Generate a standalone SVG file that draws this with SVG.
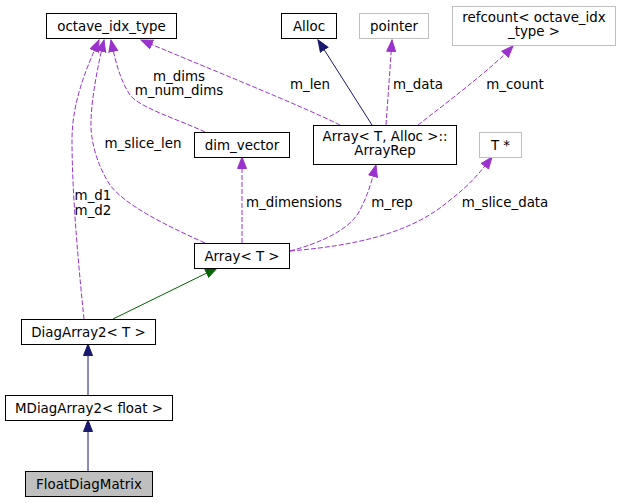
<svg xmlns="http://www.w3.org/2000/svg" width="621" height="503" viewBox="0 0 621 503">
<style>
text{font-family:"DejaVu Sans",sans-serif;font-size:13.4px;fill:#000;text-anchor:middle}
.box{fill:#fff;stroke:#000;stroke-width:1}
.gbox{fill:#fff;stroke:#bfbfbf;stroke-width:1}
.cur{fill:#bfbfbf;stroke:#000;stroke-width:1}
.dash{fill:none;stroke:#9a32cd;stroke-width:1;stroke-dasharray:5,2}
.navy{fill:none;stroke:#191970;stroke-width:1}
.green{fill:none;stroke:#006400;stroke-width:1}
</style>
<defs>
<marker id="ap" markerUnits="userSpaceOnUse" markerWidth="13" markerHeight="11" refX="12" refY="5" orient="auto"><path d="M0.5,0.5 L12,5 L0.5,9.5 z" fill="#9a32cd" stroke="#9a32cd"/></marker>
<marker id="an" markerUnits="userSpaceOnUse" markerWidth="13" markerHeight="11" refX="12" refY="5" orient="auto"><path d="M0.5,0.5 L12,5 L0.5,9.5 z" fill="#191970" stroke="#191970"/></marker>
<marker id="ag" markerUnits="userSpaceOnUse" markerWidth="13" markerHeight="11" refX="12" refY="5" orient="auto"><path d="M0.5,0.5 L12,5 L0.5,9.5 z" fill="#006400" stroke="#006400"/></marker>
</defs>
<g id="connectors">
<path class="navy" marker-end="url(#an)" d="M372,125 L318,40"/>
<path class="dash" marker-end="url(#ap)" d="M386,125 L392,40"/>
<text x="418" y="89">m_data</text>
<path class="dash" marker-end="url(#ap)" d="M418,125 C450,100 490,70 513,46"/>
<text x="515" y="89">m_count</text>
<path class="dash" marker-end="url(#ap)" d="M340,125 C300,105 200,65 141,40"/>
<text x="310" y="89">m_len</text>
<path class="dash" marker-end="url(#ap)" d="M205,132 C180,120 140,108 130,95 C120,80 115,60 111,40"/>
<text x="179" y="81">m_dims</text>
<text x="179" y="95">m_num_dims</text>
<path class="dash" marker-end="url(#ap)" d="M205,243 C165,225 125,205 110,185 C97,165 90,140 91,120 C92,95 98,65 104,40"/>
<text x="143" y="148">m_slice_len</text>
<path class="dash" marker-end="url(#ap)" d="M84,319 C80,280 72,200 72,140 C72,100 88,65 99,40"/>
<text x="93" y="200">m_d1</text>
<text x="93" y="215">m_d2</text>
<path class="dash" marker-end="url(#ap)" d="M242,243 L242,157"/>
<text x="294" y="207">m_dimensions</text>
<path class="dash" marker-end="url(#ap)" d="M290,251 C320,243 350,230 360,210 C368,195 372,180 376,165"/>
<text x="392" y="207">m_rep</text>
<path class="dash" marker-end="url(#ap)" d="M290,251 C350,246 410,235 450,200 C470,185 482,170 492,157"/>
<text x="505" y="207">m_slice_data</text>
<path class="green" marker-end="url(#ag)" d="M113,319 L217,268"/>
<path class="navy" marker-end="url(#an)" d="M88,395 L88,344"/>
<path class="navy" marker-end="url(#an)" d="M88,471 L88,420"/>
</g>
<g id="octave_idx_type"><rect class="box" x="46.5" y="13.5" width="130" height="25"/><text x="111.5" y="30.5">octave_idx_type</text></g>
<g id="Alloc"><rect class="box" x="281.5" y="13.5" width="55" height="25"/><text x="309" y="30.5">Alloc</text></g>
<g id="pointer"><rect class="gbox" x="359.5" y="13.5" width="69" height="25"/><text x="394" y="30.5">pointer</text></g>
<g id="refcount"><rect class="gbox" x="452.5" y="6.5" width="163" height="39"/><text x="534" y="21.5">refcount&lt; octave_idx</text><text x="534" y="35.5">_type &gt;</text></g>
<g id="dim_vector"><rect class="box" x="194.5" y="132.5" width="95" height="25"/><text x="242" y="149.5">dim_vector</text></g>
<g id="ArrayRep"><rect class="box" x="313.5" y="125.5" width="143" height="39"/><text x="385" y="140.5">Array&lt; T, Alloc &gt;::</text><text x="385" y="154.5">ArrayRep</text></g>
<g id="Tptr"><rect class="gbox" x="479.5" y="132.5" width="42" height="25"/><text x="500.5" y="149.5">T *</text></g>
<g id="Array"><rect class="box" x="194.5" y="243.5" width="95" height="25"/><text x="242" y="260.5">Array&lt; T &gt;</text></g>
<g id="DiagArray2"><rect class="box" x="21.5" y="319.5" width="134" height="25"/><text x="88.5" y="336.5">DiagArray2&lt; T &gt;</text></g>
<g id="MDiagArray2"><rect class="box" x="5.5" y="395.5" width="167" height="25"/><text x="89" y="412.5">MDiagArray2&lt; float &gt;</text></g>
<g id="FloatDiagMatrix"><rect class="cur" x="25.5" y="471.5" width="127" height="25"/><text x="89" y="488.5">FloatDiagMatrix</text></g>
</svg>
